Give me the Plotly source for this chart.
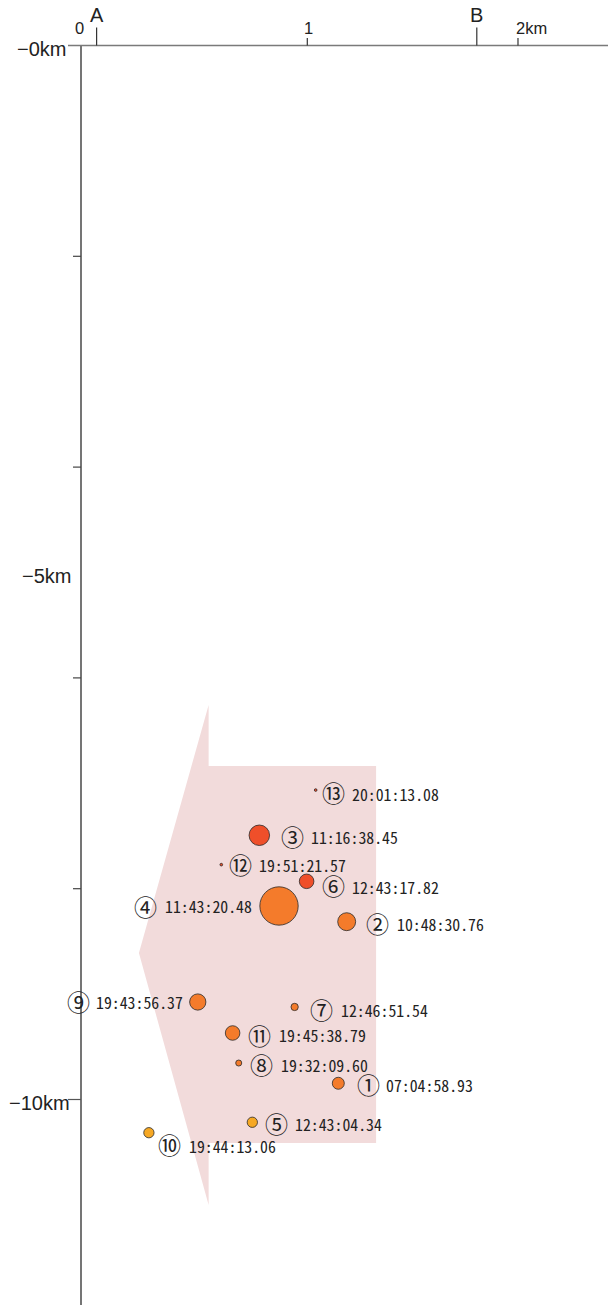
import plotly.graph_objects as go

# ---------------- data ----------------
eq_no = list(range(1, 14))
circled = ['①', '②', '③', '④', '⑤', '⑥', '⑦', '⑧', '⑨', '⑩', '⑪', '⑫', '⑬']
times = ['07:04:58.93', '10:48:30.76', '11:16:38.45', '11:43:20.48', '12:43:04.34',
         '12:43:17.82', '12:46:51.54', '19:32:09.60', '19:43:56.37', '19:44:13.06',
         '19:45:38.79', '19:51:21.57', '20:01:13.08']
dist_km = [1.137, 1.174, 0.788, 0.875, 0.757, 0.997, 0.944, 0.697, 0.516, 0.300,
           0.670, 0.620, 1.037]
depth_km = [-9.846, -8.313, -7.493, -8.164, -10.216, -7.930, -9.122, -9.654, -9.075,
            -10.315, -9.369, -7.772, -7.064]
magnitude = [1.6, 2.3, 2.6, 4.7, 1.4, 1.9, 1.05, 0.9, 2.1, 1.4, 1.9, 0.5, 0.5]

# shaded region (distance km, depth km)
region_x = [0.564, 0.564, 1.304, 1.304, 0.564, 0.564, 0.256, 0.564]
region_y = [-6.257, -6.836, -6.836, -10.413, -10.413, -11.001, -8.610, -6.257]

# axis ticks
x_tick_vals = [0, 1, 1.931]
x_tick_text = ['0', '1', '2km']
section_vals = [0.069, 1.749]
section_text = ['A', 'B']
y_label_vals = [0, -5, -10]
y_label_text = ['−0km', '−5km', '−10km']
y_minor_vals = [-2, -4, -6, -8]

# ---------------- layout constants ----------------
W, H = 608, 1305
PXX = 226.3      # px per km horizontally
PXY = 105.4      # px per km vertically
X0PX, Y0PX = 81, 45.5
x_range = [-X0PX / PXX, (W - X0PX) / PXX]
y_range = [-(H - Y0PX) / PXY, Y0PX / PXY]

# label offsets in px: (text dx, text dy-down, circle dx, circle dy-down)
label_off = [
    (46.7, 2.7, 29.7, 0.7),
    (49.3, 3.3, 31.3, 1.3),
    (50.7, 2.7, 32.7, 0.7),
    (-115.0, 1.0, -133.7, 0.0),
    (41.7, 2.7, 23.7, 0.7),
    (44.3, 5.7, 27.3, 3.7),
    (45.3, 4.0, 27.0, 2.0),
    (41.3, 2.0, 23.0, 1.0),
    (-102.7, 0.0, -119.0, -1.0),
    (39.0, 13.3, 21.0, 11.3),
    (45.0, 3.0, 26.6, 2.0),
    (36.7, 1.3, 18.7, -0.7),
    (35.3, 4.0, 18.3, 2.0),
]
# y-label horizontal shifts (px)
y_label_shift = [-13, -8, -9]


def depth_color(d):
    if d > -8:
        return '#ef4f2a'
    if d > -10:
        return '#f47b2b'
    return '#f6a824'


colors = [depth_color(d) for d in depth_km]
sizes = [8.5 * m - 1.6 for m in magnitude]

fig = go.Figure()
fig.add_trace(go.Scatter(x=region_x, y=region_y, mode='lines', fill='toself',
                         fillcolor='#f2dbdb', line=dict(width=0), hoverinfo='skip'))
fig.add_trace(go.Scatter(x=dist_km, y=depth_km, mode='markers',
                         marker=dict(size=sizes, color=colors, opacity=1,
                                     line=dict(color='#2a2a2a', width=0.8)),
                         hoverinfo='skip'))

shapes = []
# y axis line
shapes.append(dict(type='line', xref='x', yref='y', x0=0, x1=0, y0=0, y1=y_range[0],
                   line=dict(color='#2b2b2b', width=1.3)))
# x axis line (extends a little to the left of the y axis)
shapes.append(dict(type='line', xref='x', yref='y', x0=-13 / PXX, x1=x_range[1], y0=0, y1=0,
                   line=dict(color='#7a7a7a', width=1.6)))
# y ticks
for v in y_minor_vals:
    shapes.append(dict(type='line', xref='x', yref='y', xsizemode='pixel', xanchor=0,
                       x0=-8, x1=0, y0=v, y1=v, line=dict(color='#444', width=1.2)))
shapes.append(dict(type='line', xref='x', yref='y', xsizemode='pixel', xanchor=0,
                   x0=-13, x1=0, y0=-10, y1=-10, line=dict(color='#555', width=1.2)))
# x ticks
for v in x_tick_vals[1:]:
    shapes.append(dict(type='line', xref='x', yref='y', ysizemode='pixel', yanchor=0,
                       x0=v, x1=v, y0=0, y1=7.5, line=dict(color='#333', width=1.2)))
for v in section_vals:
    shapes.append(dict(type='line', xref='x', yref='y', ysizemode='pixel', yanchor=0,
                       x0=v, x1=v, y0=0, y1=18, line=dict(color='#333', width=1.2)))

ann = []
AX_FONT = 'Liberation Sans, Arial, sans-serif'
for v, t, sh in zip(y_label_vals, y_label_text, y_label_shift):
    ann.append(dict(x=0, y=v, xref='x', yref='y', text=t, showarrow=False,
                    xanchor='right', yanchor='middle', xshift=sh, yshift=-3,
                    font=dict(family=AX_FONT, size=20, color='#222')))
for v, t in zip(x_tick_vals, x_tick_text):
    ann.append(dict(x=v, y=0, xref='x', yref='y', text=t, showarrow=False,
                    xanchor='left' if t == '2km' else 'center', yanchor='bottom',
                    xshift=-4 if t == '2km' else (-2 if t == '0' else 1), yshift=7,
                    font=dict(family=AX_FONT, size=16.5, color='#222')))
for v, t in zip(section_vals, section_text):
    ann.append(dict(x=v, y=0, xref='x', yref='y', text=t, showarrow=False,
                    xanchor='center', yanchor='bottom', yshift=18,
                    font=dict(family=AX_FONT, size=20, color='#222')))

LBL_FONT = 'Noto Sans Mono CJK JP, DejaVu Sans Mono, monospace'
CIR_FONT = 'Noto Sans CJK JP, sans-serif'
for i in range(len(eq_no)):
    tdx, tdy, cdx, cdy = label_off[i]
    ann.append(dict(x=dist_km[i], y=depth_km[i], xref='x', yref='y', text=times[i],
                    showarrow=False, xanchor='left', yanchor='middle',
                    xshift=tdx, yshift=-tdy, borderpad=0,
                    font=dict(family=LBL_FONT, size=15.8, color='#222')))
    ann.append(dict(x=dist_km[i], y=depth_km[i], xref='x', yref='y', text=circled[i],
                    showarrow=False, xanchor='center', yanchor='middle',
                    xshift=cdx, yshift=-cdy, borderpad=0,
                    font=dict(family=CIR_FONT, size=23, color='#222')))

fig.update_layout(
    width=W, height=H, autosize=False,
    margin=dict(l=0, r=0, t=0, b=0, pad=0),
    paper_bgcolor='white', plot_bgcolor='white',
    showlegend=False,
    xaxis=dict(range=x_range, visible=False, fixedrange=True),
    yaxis=dict(range=y_range, visible=False, fixedrange=True),
    shapes=shapes, annotations=ann,
)

fig.write_html('out.html', config={'displayModeBar': False},
               post_script="document.body.style.margin='0px';document.body.style.overflow='hidden';")
